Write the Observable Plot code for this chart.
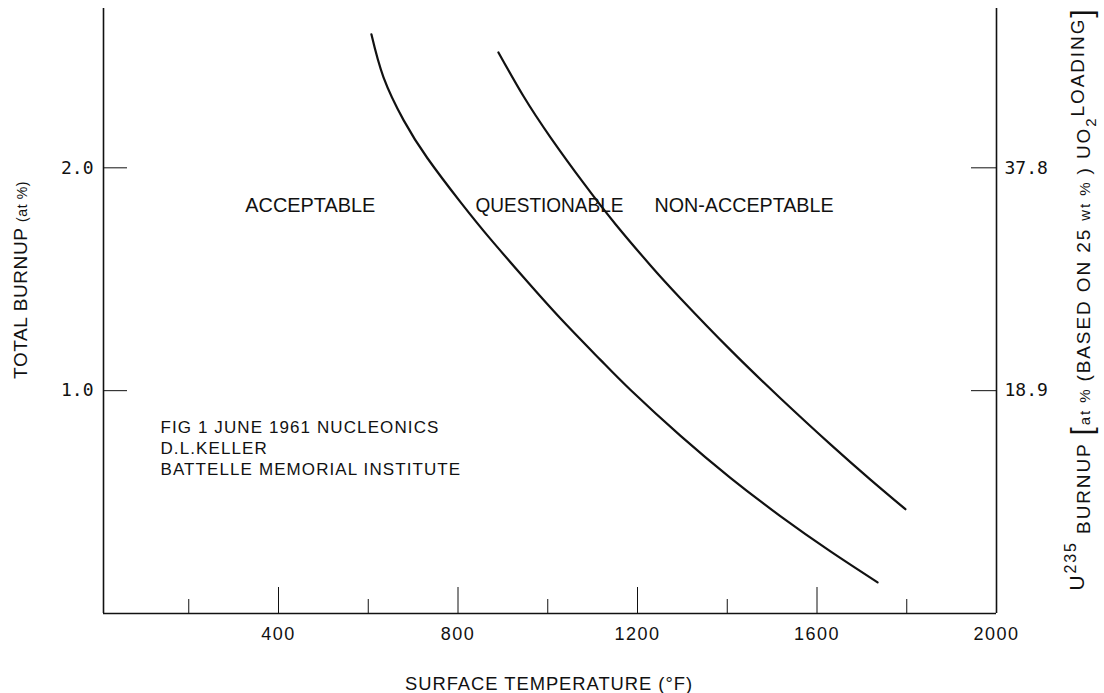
<!DOCTYPE html>
<html><head><meta charset="utf-8">
<script src="https://cdn.jsdelivr.net/npm/d3@7"></script>
<script src="https://cdn.jsdelivr.net/npm/@observablehq/plot@0.6"></script>
<style>
html,body{margin:0;padding:0;background:#fff;}
</style></head><body><div id="chart"></div>
<script>
// Boundary curves (surface temperature °F vs total burnup at %)
const acceptTemp   = [607, 634, 679, 732, 806, 872, 946, 1028, 1118, 1184, 1296, 1407, 1519, 1630, 1735];
const acceptBurnup = [2.599, 2.406, 2.213, 2.043, 1.845, 1.681, 1.509, 1.325, 1.137, 1.004, 0.797, 0.609, 0.436, 0.279, 0.140];
const nonTemp   = [890, 946, 1006, 1080, 1151, 1229, 1296, 1407, 1519, 1630, 1719, 1797];
const nonBurnup = [2.518, 2.321, 2.137, 1.931, 1.747, 1.562, 1.414, 1.183, 0.965, 0.759, 0.601, 0.468];

const leftTicks = [1.0, 2.0];
const rightTickLabels = ["18.9", "37.8"];
const majorTempTicks = [400, 800, 1200, 1600];
const minorTempTicks = [200, 600, 1000, 1400, 1800];
const tempTickLabels = [400, 800, 1200, 1600, 2000];

const regionNames = ["ACCEPTABLE", "QUESTIONABLE", "NON-ACCEPTABLE"];
const regionTemp = [326, 839, 1238];
const regionBurnup = [1.83, 1.83, 1.83];

const noteLines = ["FIG 1 JUNE 1961 NUCLEONICS", "D.L.KELLER", "BATTELLE MEMORIAL INSTITUTE"];
const noteTemp = [137, 137, 137];
const noteBurnup = [0.836, 0.742, 0.648];

const sans = "'Liberation Sans',Arial,sans-serif";
const mono = "'DejaVu Sans Mono','Liberation Mono',monospace";
const ink = "#111";

const accept = acceptTemp.map((t, i) => ({t, b: acceptBurnup[i]}));
const non = nonTemp.map((t, i) => ({t, b: nonBurnup[i]}));
const regions = regionNames.map((n, i) => ({n, t: regionTemp[i], b: regionBurnup[i]}));
const notes = noteLines.map((n, i) => ({n, t: noteTemp[i], b: noteBurnup[i]}));

const plot = Plot.plot({
  width: 1104,
  height: 693,
  marginLeft: 103,
  marginRight: 108,
  marginTop: 8,
  marginBottom: 80,
  style: {background: "#fff", color: ink, fontFamily: sans},
  x: {domain: [10, 2000]},
  y: {domain: [0, 2.715]},
  marks: [
    Plot.ruleX([10, 2000], {stroke: ink, strokeWidth: 1.6}),
    Plot.ruleY([0], {stroke: ink, strokeWidth: 1.6}),
    Plot.axisY({anchor: "left", ticks: leftTicks, tickSize: -24, tickPadding: 34, tickFormat: d3.format(".1f"),
      fontFamily: mono, fontSize: 18, label: null, stroke: ink}),
    Plot.axisY({anchor: "right", ticks: leftTicks, tickSize: -26, tickPadding: 34,
      tickFormat: d => rightTickLabels[leftTicks.indexOf(d)], fontFamily: mono, fontSize: 18, label: null, stroke: ink}),
    Plot.axisX({anchor: "bottom", ticks: majorTempTicks, tickSize: -26, tickFormat: () => "", label: null, stroke: ink}),
    Plot.axisX({anchor: "bottom", ticks: minorTempTicks, tickSize: -14, tickFormat: () => "", label: null, stroke: ink}),
    Plot.axisX({anchor: "bottom", ticks: tempTickLabels, tickSize: 0, tickPadding: 14, fontSize: 18,
      tickFormat: d => String(d), label: null}),
    Plot.line(accept, {x: "t", y: "b", curve: "natural", stroke: ink, strokeWidth: 2.2}),
    Plot.line(non, {x: "t", y: "b", curve: "natural", stroke: ink, strokeWidth: 2.2}),
    Plot.text(regions, {x: "t", y: "b", text: "n", textAnchor: "start", fontSize: 21, fill: ink}),
    Plot.text(notes, {x: "t", y: "b", text: "n", textAnchor: "start", fontSize: 17, fill: ink})
  ]
});

const svg = d3.select(plot);
svg.selectAll('g[aria-label="x-axis tick label"] text').style("letter-spacing", "1.5px");
// region labels: squeeze to the narrow lettering of the original
const regionWidths = [130, 148, 179];
svg.selectAll('g[aria-label="text"]').filter((d, i) => i === 0).selectAll("text")
  .attr("textLength", (d, i) => regionWidths[i] ?? null)
  .attr("lengthAdjust", "spacingAndGlyphs");
svg.selectAll('g[aria-label="text"]').filter((d, i) => i === 1).selectAll("text")
  .style("letter-spacing", "1.1px");

// left axis title
const lt = svg.append("text")
  .attr("transform", "translate(27,280) rotate(-90)")
  .attr("text-anchor", "middle")
  .attr("fill", ink)
  .style("font-family", sans)
  .style("letter-spacing", "0.6px");
lt.append("tspan").attr("font-size", 19).text("TOTAL BURNUP ");
lt.append("tspan").attr("font-size", 14).text("(at %)");

// right axis title
const rt = svg.append("text")
  .attr("transform", "translate(1090,299) rotate(-90)")
  .attr("text-anchor", "middle")
  .attr("fill", ink)
  .style("font-family", sans)
  .style("letter-spacing", "1.9px");
rt.append("tspan").attr("font-size", 21).attr("dy", -6).text("U");
rt.append("tspan").attr("font-size", 16).attr("dy", -8).text("235");
rt.append("tspan").attr("font-size", 19).attr("dy", 14).text(" BURNUP ");
rt.append("tspan").attr("font-size", 30).attr("dy", 2).text("[");
rt.append("tspan").attr("font-size", 15).attr("dy", -2).text("at % ");
rt.append("tspan").attr("font-size", 19).text("(BASED ON 25 ");
rt.append("tspan").attr("font-size", 15).text("wt % ");
rt.append("tspan").attr("font-size", 19).text(") UO");
rt.append("tspan").attr("font-size", 15).attr("dy", 6).text("2");
rt.append("tspan").attr("font-size", 19).attr("dy", -12).text("LOADING");
rt.append("tspan").attr("font-size", 30).attr("dy", 8).text("]");

// x axis title
svg.append("text")
  .attr("x", 549).attr("y", 690)
  .attr("text-anchor", "middle")
  .attr("fill", ink)
  .attr("font-size", 19)
  .attr("textLength", 288)
  .attr("lengthAdjust", "spacingAndGlyphs")
  .style("font-family", sans)
  .style("letter-spacing", "1px")
  .text("SURFACE TEMPERATURE (°F)");

document.getElementById("chart").appendChild(plot);
</script>
</body></html>
